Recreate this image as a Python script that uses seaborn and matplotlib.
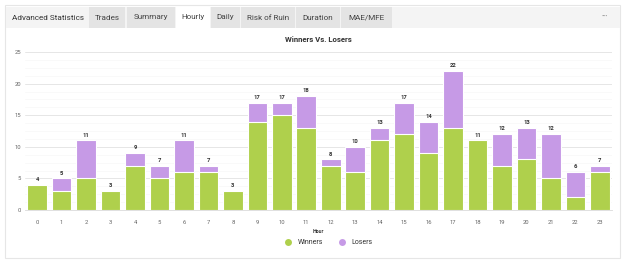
import matplotlib
matplotlib.use("Agg")
import matplotlib.pyplot as plt
import matplotlib.patches as mpatches
from matplotlib.lines import Line2D
import seaborn as sns
import pandas as pd
import numpy as np

hours = [str(h) for h in range(24)]
winners = [4, 3, 5, 3, 7, 5, 6, 6, 3, 14, 15, 13, 7, 6, 11, 12, 9, 13, 11, 7, 8, 5, 2, 6]
losers = [0, 2, 6, 0, 2, 2, 5, 1, 0, 3, 2, 5, 1, 4, 2, 5, 5, 9, 0, 5, 5, 7, 4, 1]
tabs = ["Trades", "Summary", "Hourly", "Daily", "Risk of Ruin", "Duration", "MAE/MFE"]

totals = [w + l for w, l in zip(winners, losers)]
df = pd.DataFrame({"Hour": hours, "Winners": winners, "Total": totals})

sns.set_theme(style="white")
plt.rcParams["font.family"] = ["Roboto", "DejaVu Sans"]

W, H = 625, 264
fig = plt.figure(figsize=(W / 100, H / 100), dpi=100)
fig.patch.set_facecolor("white")

def fx(x):
    return x / W

def fy(y):
    return 1 - y / H

# card border
fig.patches.append(mpatches.Rectangle((fx(5), fy(258)), fx(615), (253) / H,
                                      transform=fig.transFigure, facecolor="white",
                                      edgecolor="#e6e6e6", linewidth=0.8, zorder=-2))
# tab bar background
fig.patches.append(mpatches.Rectangle((fx(5.5), fy(28)), fx(614), 21 / H,
                                      transform=fig.transFigure, facecolor="#f4f4f4",
                                      edgecolor="none", zorder=-1.5))
fig.text(fx(12), fy(17.5), "Advanced Statistics", fontsize=5.9, color="#333333",
         va="center", ha="left")
tab_edges = [(89, 125), (127, 175), (176, 210), (211, 240), (241, 295), (296, 340), (341, 392)]
for name, (x0, x1) in zip(tabs, tab_edges):
    fc = "white" if name == "Hourly" else "#e4e4e4"
    fig.patches.append(mpatches.Rectangle((fx(x0), fy(28)), fx(x1 - x0), 21 / H,
                                          transform=fig.transFigure, facecolor=fc,
                                          edgecolor="none", zorder=-1))
    fig.text(fx((x0 + x1) / 2), fy(17.5), name, fontsize=5.9, color="#444444",
             va="center", ha="center", zorder=2)
fig.text(fx(605), fy(16), "\u2022\u2022\u2022", fontsize=4.5, color="#999999",
         va="center", ha="center")

ax = fig.add_axes([fx(25), fy(210), fx(587), (210 - 52) / H])
ax.set_zorder(5)
ax.patch.set_alpha(0)

green = "#afd04c"
purple = "#c69ae6"

sns.barplot(data=df, x="Hour", y="Total", color=purple, saturation=1, width=0.8,
            edgecolor="white", linewidth=0.8, ax=ax, zorder=3)
sns.barplot(data=df, x="Hour", y="Winners", color=green, saturation=1, width=0.8,
            edgecolor="white", linewidth=0.8, ax=ax, zorder=4)

ax.bar_label(ax.containers[0], labels=[str(t) for t in totals], padding=2,
             fontsize=4.2, fontweight="bold", color="#333333")

ax.set_ylim(0, 25)
ax.set_xlim(-0.5, 23.5)
ax.set_yticks([0, 5, 10, 15, 20, 25])
ax.set_yticks(np.arange(0, 25, 1.25), minor=True)
ax.grid(axis="y", which="major", color="#e6e6e6", linewidth=0.7, zorder=0)
ax.grid(axis="y", which="minor", color="#f7f7f7", linewidth=0.5, zorder=0)
ax.set_axisbelow(True)
for s in ["top", "right", "left"]:
    ax.spines[s].set_visible(False)
ax.spines["bottom"].set_color("#e0e0e0")
ax.spines["bottom"].set_linewidth(0.7)
ax.tick_params(axis="both", which="both", length=0, labelsize=4.2, colors="#666666")
ax.tick_params(axis="y", pad=3)
ax.tick_params(axis="x", pad=7)
ax.set_ylabel("")
ax.set_xlabel("Hour", fontsize=3.8, fontweight="bold", color="#333333", labelpad=3)
ax.set_title("Winners Vs. Losers", fontsize=5.6, fontweight="bold", color="#333333", pad=7)

handles = [Line2D([0], [0], marker="o", linestyle="none", markersize=5,
                  markerfacecolor=green, markeredgecolor="none"),
           Line2D([0], [0], marker="o", linestyle="none", markersize=5,
                  markerfacecolor=purple, markeredgecolor="none")]
fig.legend(handles, ["Winners", "Losers"], loc="center", bbox_to_anchor=(fx(327), fy(243)),
           ncol=2, frameon=False, fontsize=5, handletextpad=0.3, columnspacing=1.8,
           labelcolor="#333333")

fig.savefig("out.png", dpi=100, facecolor="white")
